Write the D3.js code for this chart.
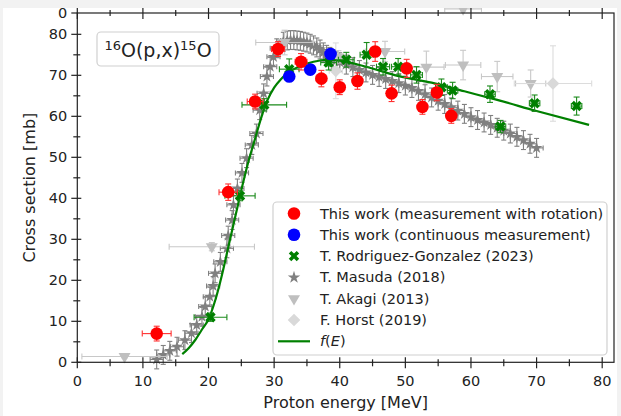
<!DOCTYPE html>
<html>
<head>
<meta charset="utf-8">
<script src="https://cdn.jsdelivr.net/npm/d3@7"></script>
<style>
  body { margin: 0; background: #f2f2f2; }
  svg { display: block; font-family: "DejaVu Sans", sans-serif; }
</style>
</head>
<body>
<script>

// this work, measurement with rotation
var rotE = [12.1, 23.0, 27.1, 30.6, 34.1, 37.2, 40.0, 42.7, 45.4, 47.9, 50.2, 52.6, 54.8, 57.0];
var rotS = [7.0, 41.5, 63.6, 76.4, 73.3, 69.2, 67.1, 68.6, 75.8, 65.6, 71.7, 62.3, 65.8, 60.1];
var rotXErr = [2.2, 1.4, 1.2, 1.0, 0.9, 0.8, 0.7, 0.7, 0.6, 0.6, 0.6, 0.5, 0.5, 0.5];
var rotYErr = [1.8, 2.0, 1.8, 1.8, 2.0, 2.0, 1.8, 2.0, 2.4, 2.0, 2.2, 1.8, 2.0, 1.8];

// this work, continuous measurement
var contE = [32.3, 35.5, 38.6];
var contS = [69.7, 71.4, 75.2];
var contXErr = [0.5, 0.5, 0.5];
var contYErr = [1.2, 1.2, 1.2];

// T. Rodriguez-Gonzalez (2023)
var rgE = [20.3, 24.8, 28.5, 32.3, 38.3, 41.0, 44.1, 46.6, 48.9, 51.7, 55.5, 57.2, 62.9, 64.5, 69.7, 76.1];
var rgS = [11.0, 40.6, 62.8, 71.5, 73.1, 73.8, 75.0, 72.1, 72.1, 70.1, 67.1, 66.3, 65.4, 57.5, 63.2, 62.5];
var rgXErr = [2.5, 2.3, 3.4, 1.5, 1.2, 1.2, 1.0, 1.0, 1.0, 0.9, 0.9, 0.8, 0.8, 0.8, 0.8, 0.8];
var rgYErr = [1.0, 1.2, 1.5, 2.5, 1.8, 1.8, 3.0, 2.0, 2.0, 2.0, 2.0, 2.0, 2.0, 1.5, 2.0, 2.2];

// T. Masuda (2018)
var masE = [12.1, 13.1, 14.1, 15.2, 16.4, 17.4, 18.2, 19.0, 19.5, 20.2, 20.7, 21.0, 21.8, 22.8, 23.0,
  23.6, 23.8, 24.4, 25.1, 25.8, 26.6, 27.3, 27.8, 28.4, 28.9, 29.4, 29.9, 30.4, 31.4,
  32, 32.5, 33, 33.5, 34, 34.5, 35, 35.5, 36, 36.5, 37, 37.5, 38, 38.5, 39, 39.5, 40, 41, 42, 43, 44, 45, 46, 47, 48, 49, 50,
  51, 52, 53, 54, 55, 56, 57, 58, 59, 60, 61, 62, 63, 64, 65, 66, 67, 68, 69, 70];
var masS = [0.7, 1.8, 2.8, 3.8, 5.4, 7.1, 9.1, 11.1, 13.6, 16.0, 18.6, 21.7, 24.5, 27.8, 30.9,
  34.7, 38.4, 42.4, 46.2, 49.8, 53.0, 55.8, 61.5, 65.6, 69.7, 72.1, 74.5, 76.6, 78.2,
  78.5, 78.6, 78.6, 78.5, 78.4, 78.2, 78.0, 77.7, 77.3, 76.8, 76.3, 75.6, 75.0, 74.5, 74.0, 73.6, 73.2, 72.6, 72.0, 71.3, 70.7, 70.1, 69.6, 69.1, 68.6, 68.1, 67.5,
  66.9, 66.2, 65.4, 64.6, 63.8, 63.0, 62.2, 61.4, 60.6, 59.8, 59.1, 58.5, 57.9, 57.2, 56.5, 55.8, 55.0, 54.2, 53.3, 52.3];
var masXErr = 1.0;
var masYErr = 2.3;

// T. Akagi (2013)
var akE = [7.2, 20.5, 31.6, 39.8, 46.9, 53.2, 58.8, 64.0, 69.1, 58.8];
var akS = [1.4, 28.2, 78.0, 74.5, 75.8, 72.0, 72.5, 69.7, 68.0, 86.2];
var akXErr = [6.5, 6.5, 4.4, 1.5, 3.0, 2.7, 2.7, 2.4, 2.3, 2.8];
var akYErr = [0.3, 1.0, 3.0, 1.5, 2.5, 3.9, 3.6, 3.7, 3.3, 0.5];

// F. Horst (2019)
var hoE = [39.4, 72.5];
var hoS = [71.1, 68.0];
var hoXErr = [1.0, 5.9];
var hoYErr = [6.8, 9.2];

// f(E)
var fE = [16.0, 17, 18, 19, 20, 21, 22, 23, 24, 25, 26, 27, 28, 29, 30, 31, 32, 34, 36, 38, 40, 44, 49, 54, 59, 64, 70, 78];
var fS = [2.0, 3.5, 5.5, 8.0, 10.5, 15, 21, 28, 35, 42, 48.5, 54, 59.5, 64, 67, 69, 70.5, 72.3, 73.3, 73.8, 73.6, 72.1, 69.8, 68.2, 66.1, 64.0, 61.3, 57.9];

var xTicks = [0, 10, 20, 30, 40, 50, 60, 70, 80];
var yTicks = [0, 10, 20, 30, 40, 50, 60, 70, 80];
var legendLabels = ["This work (measurement with rotation)", "This work (continuous measurement)",
  "T. Rodriguez-Gonzalez (2023)", "T. Masuda (2018)", "T. Akagi (2013)", "F. Horst (2019)"];

var W = 621, H = 416;
var L = 77.3, R = 614, T = 13, B = 362.3;

var x = d3.scaleLinear().domain([0, 81.8]).range([L, R]);
var y = d3.scaleLinear().domain([0, 85.2]).range([B, T]);

var svg = d3.select("body").append("svg").attr("width", W).attr("height", H);
svg.append("rect").attr("x", 3).attr("y", 8).attr("width", 614).attr("height", H - 8).attr("fill", "#fff");

// filled X marker like matplotlib "X"
var symbolXFilled = {
  draw: function(ctx, size) {
    var e = Math.sqrt(size) * 0.55, w = e * 0.48;
    var pts = [[0, -w], [e - w, -e], [e, -e + w], [w, 0], [e, e - w], [e - w, e], [0, w], [-e + w, e], [-e, e - w], [-w, 0], [-e, -e + w], [-e + w, -e]];
    ctx.moveTo(pts[0][0], pts[0][1]);
    for (var i = 1; i < pts.length; i++) ctx.lineTo(pts[i][0], pts[i][1]);
    ctx.closePath();
  }
};

function zipPts(E, S, xe, ye) {
  return E.map((e, i) => ({E: e, S: S[i], xe: Array.isArray(xe) ? xe[i] : xe, ye: Array.isArray(ye) ? ye[i] : ye}));
}

var series = [
  {key: "mas", pts: zipPts(masE, masS, masXErr, masYErr), color: "#808080", ecolor: "#808080", type: d3.symbolStar, size: 44, rot: 0, cap: 2.5},
  {key: "ak", pts: zipPts(akE, akS, akXErr, akYErr), color: "#bfbfbf", ecolor: "#c8c8c8", type: d3.symbolTriangle, size: 62, rot: 180, cap: 3},
  {key: "ho", pts: zipPts(hoE, hoS, hoXErr, hoYErr), color: "#d9d9d9", ecolor: "#dcdcdc", type: d3.symbolSquare, size: 80, rot: 45, cap: 3},
  {key: "rg", pts: zipPts(rgE, rgS, rgXErr, rgYErr), color: "#008000", ecolor: "#1a8a1a", type: symbolXFilled, size: 90, rot: 0, cap: 3},
  {key: "cont", pts: zipPts(contE, contS, contXErr, contYErr), color: "#0000ff", ecolor: "#0000ff", type: d3.symbolCircle, size: 125, rot: 0, cap: 3},
  {key: "rot", pts: zipPts(rotE, rotS, rotXErr, rotYErr), color: "#ff0000", ecolor: "#ff3030", type: d3.symbolCircle, size: 125, rot: 0, cap: 3}
];

var plot = svg.append("g");

function drawSeries(s) {
  var g = plot.append("g").attr("class", "series-" + s.key);
  var eg = g.append("g").attr("stroke", s.ecolor).attr("stroke-width", 1.1).attr("fill", "none");
  s.pts.forEach(d => {
    var cx = x(d.E), cy = y(d.S);
    var x0 = x(d.E - d.xe), x1 = x(d.E + d.xe), y0 = y(d.S - d.ye), y1 = y(d.S + d.ye);
    eg.append("line").attr("x1", x0).attr("x2", x1).attr("y1", cy).attr("y2", cy);
    eg.append("line").attr("x1", cx).attr("x2", cx).attr("y1", y0).attr("y2", y1);
    [x0, x1].forEach(xx => eg.append("line").attr("x1", xx).attr("x2", xx).attr("y1", cy - s.cap).attr("y2", cy + s.cap));
    [y0, y1].forEach(yy => eg.append("line").attr("x1", cx - s.cap).attr("x2", cx + s.cap).attr("y1", yy).attr("y2", yy));
  });
  g.selectAll("path.m").data(s.pts).enter().append("path")
      .attr("class", "m")
      .attr("d", d3.symbol().type(s.type).size(s.size))
      .attr("transform", d => "translate(" + x(d.E) + "," + y(d.S) + ") rotate(" + s.rot + ")")
      .attr("fill", s.color);
}

drawSeries(series[0]);
drawSeries(series[1]);
drawSeries(series[2]);

plot.append("path")
    .datum(fE.map((e, i) => [e, fS[i]]))
    .attr("d", d3.line().x(d => x(d[0])).y(d => y(d[1])).curve(d3.curveMonotoneX))
    .attr("fill", "none")
    .attr("stroke", "#008000")
    .attr("stroke-width", 2.2);

drawSeries(series[3]);
drawSeries(series[4]);
drawSeries(series[5]);

// page strip over the top edge
svg.append("rect").attr("x", 0).attr("y", 0).attr("width", W).attr("height", 8).attr("fill", "#f2f2f2");

// spines
var ax = svg.append("g").attr("stroke", "#222").attr("stroke-width", 1.2).attr("fill", "none");
ax.append("rect").attr("x", L).attr("y", T).attr("width", R - L).attr("height", B - T);

var xMinor = d3.range(5, 81, 10);
var yMinor = d3.range(5, 81, 10);

function hTicks(yPos, vals, outLen, inLen, dir) {
  vals.forEach(v => ax.append("line").attr("x1", x(v)).attr("x2", x(v))
    .attr("y1", yPos - dir * inLen).attr("y2", yPos + dir * outLen));
}
hTicks(B, xTicks, 6, 5, 1);
hTicks(B, xMinor, 4, 3, 1);
hTicks(T, xTicks, 5, 6, -1);
hTicks(T, xMinor, 3, 3, -1);

yTicks.forEach(v => ax.append("line").attr("x1", L - 6).attr("x2", L + 4).attr("y1", y(v)).attr("y2", y(v)));
yMinor.forEach(v => ax.append("line").attr("x1", L - 4).attr("x2", L + 3).attr("y1", y(v)).attr("y2", y(v)));

// the "0" tick of the panel above, at the top spine
var upperY = d3.scaleLinear().domain([0, 1]).range([T, T - 40]);
ax.append("line").attr("x1", L - 6).attr("x2", L).attr("y1", upperY(0)).attr("y2", upperY(0));

var labels = svg.append("g").attr("fill", "#222").attr("font-size", 14.5);
labels.selectAll("text.xt").data(xTicks).enter().append("text")
    .attr("x", d => x(d)).attr("y", B + 24).attr("text-anchor", "middle").text(d => d);
labels.selectAll("text.yt").data(yTicks).enter().append("text")
    .attr("x", L - 10).attr("y", d => y(d) + 5).attr("text-anchor", "end").text(d => d);
labels.append("text").attr("x", L - 10).attr("y", upperY(0) + 5).attr("text-anchor", "end").text("0");

svg.append("text").attr("x", (L + R) / 2).attr("y", 408).attr("text-anchor", "middle")
    .attr("font-size", 16).attr("fill", "#222").text("Proton energy [MeV]");
svg.append("text").attr("transform", "translate(35," + ((T + B) / 2) + ") rotate(-90)")
    .attr("text-anchor", "middle").attr("font-size", 16).attr("fill", "#222").text("Cross section [mb]");

// reaction label box
svg.append("rect").attr("x", 97).attr("y", 32).attr("width", 122).attr("height", 34).attr("rx", 4)
    .attr("fill", "#fff").attr("stroke", "#d0d0d0").attr("stroke-width", 1.2);
var tt = svg.append("text").attr("x", 158).attr("y", 57).attr("text-anchor", "middle")
    .attr("font-size", 19).attr("fill", "#222");
tt.append("tspan").attr("font-size", 13).attr("dy", -7).text("16");
tt.append("tspan").attr("dy", 7).text("O(p,x)");
tt.append("tspan").attr("font-size", 13).attr("dy", -7).text("15");
tt.append("tspan").attr("dy", 7).text("O");

// legend
var lg = svg.append("g");
lg.append("rect").attr("x", 273).attr("y", 202).attr("width", 334).attr("height", 153).attr("rx", 4)
    .attr("fill", "#fff").attr("fill-opacity", 0.85).attr("stroke", "#d0d0d0").attr("stroke-width", 1.2);
var legendSeries = [series[5], series[4], series[3], series[0], series[1], series[2]];
legendSeries.forEach((s, i) => {
  var ly = 213.5 + i * 21.3;
  lg.append("path").attr("d", d3.symbol().type(s.type).size(s.key == "mas" ? 48 : s.size))
    .attr("transform", "translate(294," + ly + ") rotate(" + s.rot + ")").attr("fill", s.color);
  lg.append("text").attr("x", 320).attr("y", ly + 5).attr("font-size", 14.5).attr("fill", "#222").text(legendLabels[i]);
});
var fy = 213.5 + 6 * 21.3;
lg.append("line").attr("x1", 278).attr("x2", 310).attr("y1", fy).attr("y2", fy).attr("stroke", "#008000").attr("stroke-width", 2.2);
var ft = lg.append("text").attr("x", 320).attr("y", fy + 5).attr("font-size", 14.5).attr("fill", "#222");
ft.append("tspan").attr("font-style", "italic").text("f");
ft.append("tspan").text("(");
ft.append("tspan").attr("font-style", "italic").text("E");
ft.append("tspan").text(")");

</script>
</body>
</html>
